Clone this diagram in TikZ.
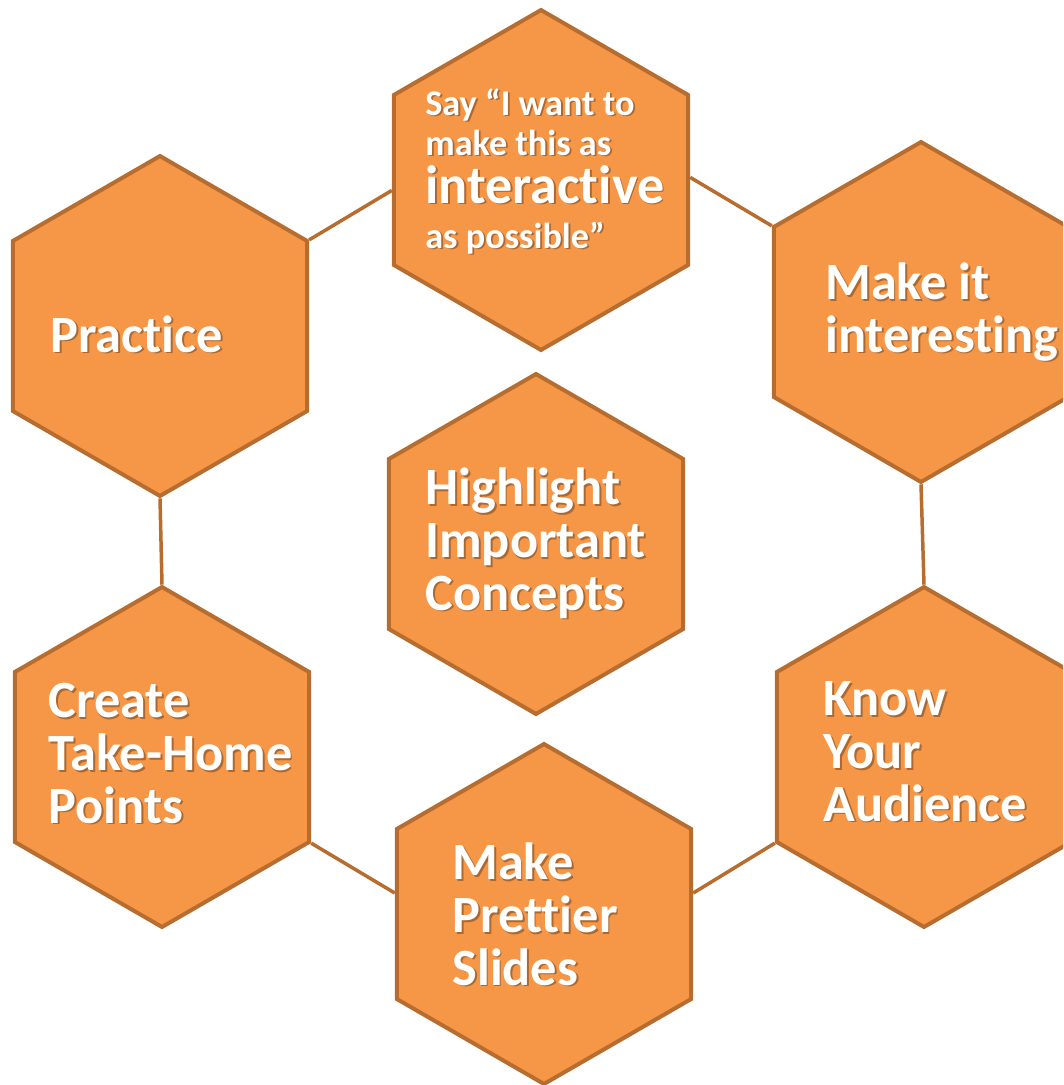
\documentclass[tikz,border=0pt]{standalone}
\usepackage{fontspec}
\setmainfont{Carlito}[Ligatures={NoCommon}]
\usetikzlibrary{shapes.geometric,calc}
\definecolor{hexfill}{RGB}{246,150,71}
\definecolor{hexline}{RGB}{183,109,48}
\newcommand\bigtxt{\fontsize{29.8}{30}\selectfont\bfseries}
\newcommand\midtxt{\fontsize{30.8}{31}\selectfont\bfseries}
\newcommand\smalltxt{\fontsize{20.6}{22}\selectfont\bfseries}
\newcommand\hexlabel[4]{%
  \node[lbl,font=#4,text=black,opacity=.3] at ($(#2)+(1.8,1.8)$) {#3};
  \node[lbl,font=#4] (#1) at (#2) {#3};}
\tikzset{
  hexa/.style={regular polygon, regular polygon sides=6, shape border rotate=30,
    minimum size=6.8cm, inner sep=0pt, fill=hexfill, draw=hexline, line width=0.08cm},
  conn/.style={draw=hexline, line width=0.07cm},
  lbl/.style={text=white, align=left, anchor=base west, inner sep=0pt},
}
\begin{document}
\begin{tikzpicture}[x=0.02cm,y=-0.02cm]
\useasboundingbox (0,0) rectangle (1063,1085);
\clip (0,0) rectangle (1063,1085);
% hexagons
\node[hexa] (say)  at (541,180) {};
\node[hexa] (prac) at (160,326) {};
\node[hexa] (int)  at (921,312) {};
\node[hexa] (high) at (536,544) {};
\node[hexa] (cth)  at (162,757) {};
\node[hexa] (pret) at (544,914) {};
\node[hexa] (know) at (924,757) {};
% connectors
\draw[conn] (prac.30) -- (say.184);
\draw[conn] (say.1) -- (int.150);
\draw[conn] (int.270) -- (know.90);
\draw[conn] (know.210) -- (pret.8.5);
\draw[conn] (cth.330) -- (pret.172);
\draw[conn] (prac.270) -- (cth.90);
% labels (anchored at the baseline of the last line)
\hexlabel{t1}{425,115}{Say “I want to}{\smalltxt}
\hexlabel{t2}{425,155}{make this as}{\smalltxt}
\hexlabel{t3}{425,203}{interactive}{\midtxt}
\hexlabel{t4}{425,248}{as possible”}{\smalltxt}
\hexlabel{tprac}{50,352}{Practice}{\bigtxt}
\hexlabel{tint}{825,352}{Make it\\interesting}{\bigtxt}
\hexlabel{thigh}{425,610}{Highlight\\Important\\Concepts}{\bigtxt}
\hexlabel{tcth}{48,823}{Create\\Take-Home\\Points}{\bigtxt}
\hexlabel{tknow}{823,821}{Know\\Your\\Audience}{\bigtxt}
\hexlabel{tpret}{452,985}{Make\\Prettier\\Slides}{\bigtxt}
\end{tikzpicture}
\end{document}
